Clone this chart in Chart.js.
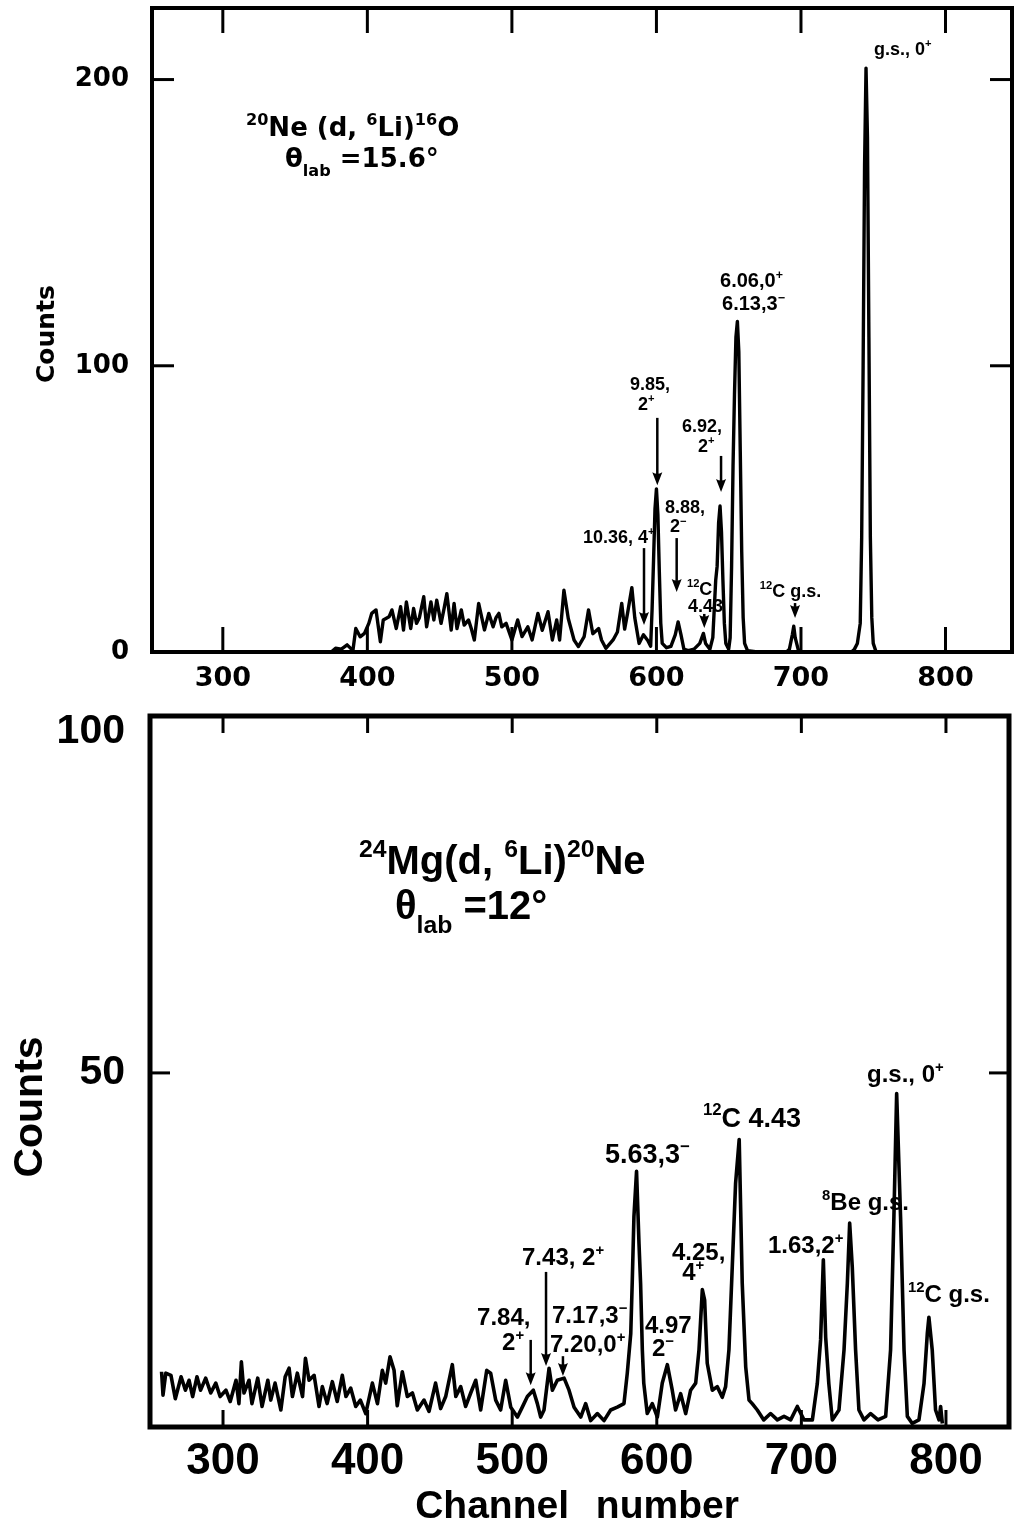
<!DOCTYPE html>
<html><head><meta charset="utf-8">
<script src="https://cdn.jsdelivr.net/npm/chart.js@4.4.1/dist/chart.umd.min.js"></script>
<style>
html,body{margin:0;padding:0;background:#fff;overflow:hidden;}
#wrap{position:relative;width:1014px;height:1528px;background:#fff;}
canvas{position:absolute;left:0;}
#c1{top:0;} #c2{top:690px;}
</style></head><body>
<div id="wrap"><canvas id="c1" width="1014" height="700"></canvas><canvas id="c2" width="1014" height="838"></canvas></div>
<script>
// ---------- DATA: upper spectrum 20Ne(d,6Li)16O ----------
const topChannels = [251,375,378,382,386,389,390,392,395,398,
 401,403,406,409,411,415,417,420,423,425,
 427,430,432,434,436,439,441,444,446,448,
 451,453,455,458,460,462,465,467,470,472,
 474,477,481,484,487,489,491,493,496,500,
 504,507,511,514,518,521,525,528,531,533,
 536,539,543,546,550,553,556,560,562,565,
 570,573,576,578,580,583,585,588,591,594,
 596,597,598,599,600,601,602,603,604,607,
 610,613,615,617,619,622,626,630,632.5,634,
 637,639,641,642,643,644,645,646,647,648,
 650,651,652,653,654,655,656,657,658,659,
 660,661,663,670,690,692,694,695,696,698,
 700,735,737,739,741,742,743,744,745,746,
 747,748,749,750,752,846];
const topCounts = [0,0,1.3,1,2.5,1,0.5,8.2,5.3,6.5,
 10,13.5,14.7,3.6,11.2,12.3,14.7,8.2,15.8,7.7,
 17.5,8.2,15.2,10,12,19.3,8.8,17.5,11.2,18.1,
 10,15,20.4,7.7,17,8.2,14.7,9.4,11.2,8,
 4.2,17,7.7,13.5,8.8,12,13.5,8.8,10,4.2,
 11.2,5.4,8.8,4.2,13.5,7.6,14.1,4.2,11.2,4.2,
 21.6,11.7,4.2,1.9,5.4,14.7,6.4,8.2,4.2,1.3,
 4.2,7,17,8,13.5,22.5,12,3,6,4,
 2,15,32,50,57,48,28,10,3,1.5,
 2,6,10.5,6,1,0.5,1,3,6.5,3,
 1,5,25,30,45,51,42,25,10,3,
 1,5,30,65,90,110,115.5,105,70,35,
 12,3,0.5,0,0,1,6,9,5,1,
 0,0,1,3,10,40,100,170,204,180,
 110,40,12,3,0,0];

// ---------- DATA: lower spectrum 24Mg(d,6Li)20Ne ----------
const bottomChannels = [257.5,258.5,260.4,264,267,271,274,276.5,279,282,
 284.5,288,291.5,295,298,302,305,309,311,312.7,
 314.5,318,320,324,327,331,333,336,340,343,
 345.7,348,351.4,355,357,359.5,363,366.4,368.7,372,
 375.6,379,382.5,385,388.3,391.8,395,398.7,403.3,406.8,
 410.2,412.5,415.5,418.3,420.5,424,427.5,431,434.4,439,
 442.5,447,450.5,454,458.6,461,464.4,467.8,471.3,474.8,
 478.2,482.4,485.1,488.6,492,495.5,499,503.6,507,510.5,
 514.6,517.4,519.7,522,525.5,527.8,531.2,535.9,539.3,542.8,
 547.4,550.8,554.3,558.9,563.5,568.1,572.7,577.3,579.6,582,
 583,584.2,586,587.7,588.8,590,591,593.4,596.9,600.4,
 603.8,607.3,610.7,613,616.5,620,623.4,626.9,629.2,631.5,
 633.1,634.9,638.4,641.8,645.3,647.6,649.9,652.2,654.5,657,
 659.1,661.5,663.8,666,669.5,674,678.7,683.4,688,692.6,
 697.2,701.8,707.6,711,713.3,715.2,716.8,719,721.4,726,
 729.5,731.8,733.4,735.2,737.5,739.8,743.3,747.9,753,758.3,
 761.7,764,765.9,768.6,771,773.3,776.7,781.3,784.8,787.1,
 788.2,790.5,792.8,795.2,796.3,797.5];
const bottomCounts = [7.8,4.5,7.6,7.3,4.0,7.1,5.2,6.6,4.3,7.1,
 5.2,6.9,4.8,6.2,4.3,5.2,3.6,6.6,3.3,9.2,
 4.8,6.6,3.3,6.9,2.9,6.6,3.8,6.2,2.4,7.1,
 8.3,4.3,7.6,4.3,9.7,6.6,7.3,2.9,5.7,3.3,
 6.4,3.6,7.3,4.3,5.5,2.9,3.8,1.9,6.2,3.3,
 8.0,6.2,9.9,8.0,3.0,7.8,4.3,4.8,2.4,3.8,
 2.2,6.2,2.6,4.3,8.8,4.3,5.7,2.9,4.8,6.6,
 2.4,8.0,7.6,3.8,2.4,6.6,2.8,1.4,2.8,4.3,
 5.2,3.3,1.4,2.4,8.3,5.2,6.6,6.9,5.2,2.8,
 1.4,3.3,0.9,1.9,0.9,2.4,2.8,3.3,7.6,13.2,
 20.3,29.7,36.1,25.9,20.3,10.9,6.2,1.9,3.3,1.4,
 6.2,8.8,5.2,2.4,4.7,1.9,5.2,6.2,10.9,19.4,
 17.9,9.0,5.2,5.7,4.2,5.7,10.9,22.6,34.4,40.6,
 20.3,8.5,3.8,3.3,2.4,1.0,1.9,1.0,1.5,1.0,
 2.9,1.0,1.0,6.1,12.3,23.6,12.7,6.1,1.0,2.4,
 10.9,20.3,28.8,22.6,10.9,2.4,1.0,1.9,1.0,1.5,
 10.9,29.7,47.1,29.7,10.9,1.5,0.5,1.0,6.1,13.2,
 15.5,10.9,2.4,1.0,2.9,0.5];

// ---------- tick labels ----------
const topXTickLabels = [300,400,500,600,700,800];
const topYTickLabels = [0,100,200];
const bottomXTickLabels = [300,400,500,600,700,800];
const bottomYTickLabels = [50,100];

// ---------- annotations (anchored in data coordinates) ----------
const topNotes = [
 {text:'^{20}Ne (d, ^{6}Li)^{16}O', ch:316, cnt:180.3, style:'title'},
 {text:'θ_{lab} =15.6°', ch:343, cnt:169.5, style:'title'},
 {text:'g.s., 0^{+}', ch:750.5, cnt:208.6, style:'small'},
 {text:'6.06,0^{+}', ch:644, cnt:127.5, style:'mid'},
 {text:'6.13,3^{−}', ch:645.4, cnt:119.5, style:'mid'},
 {text:'9.85,', ch:581.7, cnt:91.5, style:'small'},
 {text:'2^{+}', ch:587.2, cnt:84.6, style:'small'},
 {text:'6.92,', ch:617.7, cnt:76.9, style:'small'},
 {text:'2^{+}', ch:628.7, cnt:69.9, style:'small'},
 {text:'8.88,', ch:605.9, cnt:48.6, style:'small'},
 {text:'2^{−}', ch:609.4, cnt:41.9, style:'small'},
 {text:'10.36, 4^{+}', ch:549.2, cnt:38.1, style:'small'},
 {text:'^{12}C', ch:621.1, cnt:19.9, style:'small'},
 {text:'4.43', ch:621.8, cnt:14.0, style:'small'},
 {text:'^{12}C g.s.', ch:671.5, cnt:19.2, style:'small'}
];
const topArrows = [
 {ch:600.6, from:81.8, to:58.3},
 {ch:644.7, from:68.5, to:55.9},
 {ch:614.0, from:39.8, to:21.0},
 {ch:591.4, from:36.3, to:9.4},
 {ch:633.1, from:13.3, to:8.4},
 {ch:695.9, from:17.1, to:11.9}
];
const bottomNotes = [
 {text:'^{24}Mg(d, ^{6}Li)^{20}Ne', ch:394.0, cnt:78.1, style:'title'},
 {text:'θ_{lab} =12°', ch:418.9, cnt:71.8, style:'title'},
 {text:'5.63,3^{−}', ch:564.2, cnt:37.3, style:'label'},
 {text:'^{12}C 4.43', ch:631.9, cnt:42.4, style:'label'},
 {text:'4.25,', ch:610.5, cnt:23.6, style:'small'},
 {text:'4^{+}', ch:617.6, cnt:20.8, style:'small'},
 {text:'4.97', ch:591.8, cnt:13.3, style:'small'},
 {text:'2^{−}', ch:596.7, cnt:10.0, style:'small'},
 {text:'7.43, 2^{+}', ch:506.8, cnt:22.9, style:'small'},
 {text:'7.84,', ch:475.7, cnt:14.4, style:'small'},
 {text:'2^{+}', ch:493.0, cnt:10.9, style:'small'},
 {text:'7.17,3^{−}', ch:527.5, cnt:14.7, style:'small'},
 {text:'7.20,0^{+}', ch:526.1, cnt:10.6, style:'small'},
 {text:'1.63,2^{+}', ch:676.9, cnt:24.6, style:'small'},
 {text:'^{8}Be g.s.', ch:714.3, cnt:30.6, style:'small'},
 {text:'g.s., 0^{+}', ch:745.4, cnt:48.7, style:'small'},
 {text:'^{12}C g.s.', ch:773.7, cnt:17.7, style:'small'}
];
const bottomArrows = [
 {ch:523.4, from:21.9, to:8.6},
 {ch:512.8, from:12.3, to:5.9},
 {ch:535.1, from:10.0, to:7.2}
];

// ---------- helpers ----------
function richSegs(s){
  const segs=[]; const re=/\^\{([^}]*)\}|_\{([^}]*)\}|([^\^_]+)/g; let m;
  while((m=re.exec(s))){
    if(m[1]!==undefined) segs.push({t:m[1],k:'sup'});
    else if(m[2]!==undefined) segs.push({t:m[2],k:'sub'});
    else segs.push({t:m[3],k:'n'});
  }
  return segs;
}
function drawRich(ctx, s, x, y, fam, size){
  const items = richSegs(s).map(g=>{
    const sz = g.k==='n'?size:size*0.62;
    ctx.font = 'bold '+sz+'px "'+fam+'"';
    return {t:g.t,k:g.k,sz:sz,w:ctx.measureText(g.t).width};
  });
  let cx = x;
  ctx.textBaseline='alphabetic'; ctx.textAlign='left';
  items.forEach(it=>{
    ctx.font='bold '+it.sz+'px "'+fam+'"';
    const dy = it.k==='sup' ? -size*0.42 : (it.k==='sub' ? size*0.36 : 0);
    ctx.fillText(it.t, cx, y+dy);
    cx += it.w;
  });
}
function drawArrow(ctx, x, y1, y2, w, hw, hl){
  ctx.lineWidth=w;
  ctx.beginPath(); ctx.moveTo(x,y1); ctx.lineTo(x,y2-hl+2); ctx.stroke();
  ctx.beginPath(); ctx.moveTo(x-hw,y2-hl); ctx.quadraticCurveTo(x,y2-hl+3,x+hw,y2-hl); ctx.lineTo(x,y2); ctx.closePath(); ctx.fill();
}
function makeDecor(cfg){
  return {
    id:'decor'+cfg.key,
    beforeDatasetsDraw(chart){
      const ctx=chart.ctx, xs=chart.scales.x, ys=chart.scales.y;
      ctx.save(); ctx.fillStyle='#000'; ctx.strokeStyle='#000';
      cfg.notes.forEach(n=>{
        const st=cfg.styles[n.style];
        drawRich(ctx, n.text, xs.getPixelForValue(n.ch), ys.getPixelForValue(n.cnt), st.family, st.size);
      });
      cfg.arrows.forEach(a=>drawArrow(ctx, xs.getPixelForValue(a.ch), ys.getPixelForValue(a.from), ys.getPixelForValue(a.to), cfg.arrowWidth, cfg.headW, cfg.headL));
      cfg.titles.forEach(t=>{
        ctx.save(); ctx.translate(t.px,t.py); ctx.rotate(t.rot||0);
        ctx.font='bold '+t.size+'px "'+t.family+'"'; ctx.textAlign='center'; ctx.textBaseline='middle';
        if(t.wordSpacing) { try { ctx.wordSpacing = t.wordSpacing; } catch(e){} }
        ctx.fillText(t.text,0,0); ctx.restore();
      });
      ctx.restore();
    },
    afterDatasetsDraw(chart){
      const ctx=chart.ctx, a=chart.chartArea, xs=chart.scales.x, ys=chart.scales.y;
      ctx.save(); ctx.strokeStyle='#000'; ctx.lineWidth=cfg.tickWidth; ctx.lineCap='butt';
      xs.ticks.forEach(t=>{
        const p=xs.getPixelForValue(t.value);
        if(p<=a.left+3||p>=a.right-3) return;
        ctx.beginPath(); ctx.moveTo(p,a.bottom); ctx.lineTo(p,a.bottom-cfg.xLen); ctx.stroke();
        ctx.beginPath(); ctx.moveTo(p,a.top); ctx.lineTo(p,a.top+cfg.xLen); ctx.stroke();
      });
      ys.ticks.forEach(t=>{
        const p=ys.getPixelForValue(t.value);
        if(p<=a.top+3||p>=a.bottom-3) return;
        ctx.beginPath(); ctx.moveTo(a.left,p); ctx.lineTo(a.left+cfg.yLen,p); ctx.stroke();
        ctx.beginPath(); ctx.moveTo(a.right,p); ctx.lineTo(a.right-cfg.yLen,p); ctx.stroke();
      });
      ctx.lineWidth=cfg.frameWidth;
      ctx.strokeRect(a.left,a.top,a.right-a.left,a.bottom-a.top);
      ctx.restore();
    }
  };
}
function pts(xs,ys){ return xs.map((c,i)=>({x:c,y:ys[i]})); }
function noPad(s){ s.paddingTop=0; s.paddingBottom=0; s.paddingLeft=0; s.paddingRight=0; }

// ---------- upper chart ----------
new Chart(document.getElementById('c1'),{
  type:'line',
  data:{datasets:[{data:pts(topChannels,topCounts),borderColor:'#000',borderWidth:3.4,pointRadius:0,tension:0,fill:false,borderJoinStyle:'round'}]},
  options:{
    responsive:false, animation:false, events:[],
    layout:{padding:{top:8,right:2,left:0,bottom:0}},
    plugins:{legend:{display:false},tooltip:{enabled:false}},
    scales:{
      x:{type:'linear',min:251,max:846,afterFit(s){s.height=48;noPad(s);},
        grid:{display:false,drawTicks:false},border:{display:false},
        ticks:{stepSize:50,autoSkip:false,maxRotation:0,includeBounds:false,padding:11,color:'#000',
          font:{family:'DejaVu Sans',size:27,weight:'bold'},
          callback:v=>topXTickLabels.includes(v)?String(v):null}},
      y:{type:'linear',min:0,max:225,afterFit(s){s.width=152;noPad(s);},
        grid:{display:false,drawTicks:false},border:{display:false},
        ticks:{stepSize:25,autoSkip:false,includeBounds:false,padding:23,color:'#000',
          font:{family:'DejaVu Sans',size:26,weight:'bold'},
          callback:v=>topYTickLabels.includes(v)?String(v):null}}
    }
  },
  plugins:[makeDecor({key:1,notes:topNotes,arrows:topArrows,
    styles:{title:{family:'DejaVu Sans',size:26},small:{family:'Liberation Sans',size:18},mid:{family:'Liberation Sans',size:20}},
    arrowWidth:2.5,headW:5,headL:13,tickWidth:3,frameWidth:4,xLen:25,yLen:22,
    titles:[{text:'Counts',px:47,py:334,rot:-Math.PI/2,size:25,family:'DejaVu Sans'}]})]
});

// ---------- lower chart ----------
new Chart(document.getElementById('c2'),{
  type:'line',
  data:{datasets:[{data:pts(bottomChannels,bottomCounts),borderColor:'#000',borderWidth:3.6,pointRadius:0,tension:0,fill:false,borderJoinStyle:'round'}]},
  options:{
    responsive:false, animation:false, events:[],
    layout:{padding:{top:26,right:5,left:0,bottom:0}},
    plugins:{legend:{display:false},tooltip:{enabled:false}},
    scales:{
      x:{type:'linear',min:249.5,max:843.6,afterFit(s){s.height=101;noPad(s);},
        grid:{display:false,drawTicks:false},border:{display:false},
        ticks:{stepSize:50,autoSkip:false,maxRotation:0,includeBounds:false,padding:8,color:'#000',
          font:{family:'Liberation Sans',size:44,weight:'bold'},
          callback:v=>bottomXTickLabels.includes(v)?String(v):null}},
      y:{type:'linear',min:0,max:100.4,afterFit(s){s.width=150;noPad(s);},
        grid:{display:false,drawTicks:false},border:{display:false},
        ticks:{stepSize:10,autoSkip:false,includeBounds:false,padding:25,color:'#000',
          font:c=>({family:'Liberation Sans',size:41,weight:'bold',lineHeight:(c.tick&&c.tick.value===100)?0.64:1.2}),
          callback:v=>bottomYTickLabels.includes(v)?(v===100?['',String(v)]:String(v)):null}}
    }
  },
  plugins:[makeDecor({key:2,notes:bottomNotes,arrows:bottomArrows,
    styles:{title:{family:'Liberation Sans',size:40},label:{family:'Liberation Sans',size:27},small:{family:'Liberation Sans',size:24}},
    arrowWidth:2.5,headW:5,headL:13,tickWidth:3,frameWidth:5,xLen:17,yLen:20,
    titles:[{text:'Counts',px:31,py:417,rot:-Math.PI/2,size:41,family:'Liberation Sans'},
            {text:'Channel number',px:577,py:817,rot:0,size:39,family:'Liberation Sans',wordSpacing:'16px'}]})]
});
</script>
</body></html>
